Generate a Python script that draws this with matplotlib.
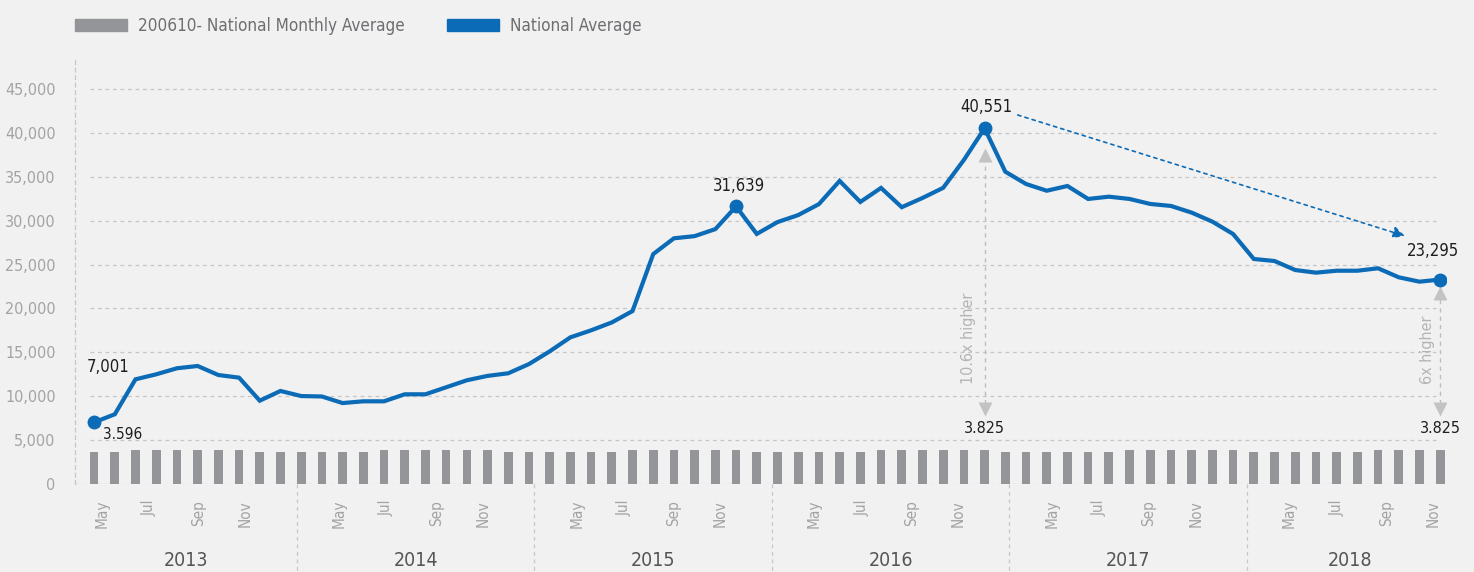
import matplotlib
matplotlib.use("Agg")
import matplotlib.pyplot as plt
import matplotlib.transforms as mtransforms
from matplotlib.patches import Patch
from matplotlib.ticker import FuncFormatter

plt.rcParams["font.family"] = ["DejaVu Sans"]
plt.rcParams["font.stretch"] = "condensed"

# ---- data -------------------------------------------------------------
years = ["2013", "2014", "2015", "2016", "2017", "2018"]
months_per_year = [10, 12, 11, 12, 11, 10]
month_ticks = ["May", "Jul", "Sep", "Nov"]

LOW, HIGH = 3596, 3825
monthly_avg = (
    [LOW, LOW, HIGH, HIGH, HIGH, HIGH, HIGH, HIGH, LOW, LOW]
    + [LOW, LOW, LOW, LOW, HIGH, HIGH, HIGH, HIGH, HIGH, HIGH, LOW, LOW]
    + [LOW, LOW, LOW, LOW, HIGH, HIGH, HIGH, HIGH, HIGH, HIGH, LOW]
    + [LOW, LOW, LOW, LOW, LOW, HIGH, HIGH, HIGH, HIGH, HIGH, HIGH, LOW]
    + [LOW, LOW, LOW, LOW, LOW, HIGH, HIGH, HIGH, HIGH, HIGH, HIGH]
    + [LOW, LOW, LOW, LOW, LOW, LOW, HIGH, HIGH, HIGH, HIGH]
)

national_avg = [
    7001, 7920, 11910, 12480, 13170, 13430, 12400, 12100, 9470, 10580,
    10000, 9950, 9200, 9400, 9400, 10200, 10200, 11000, 11800, 12300, 12600, 13650,
    15100, 16700, 17500, 18400, 19700, 26200, 28000, 28250, 29050, 31639, 28500,
    29850, 30650, 31900, 34550, 32150, 33750, 31550, 32600, 33760, 36940, 40551,
    35600, 34200, 33430, 33970, 32490, 32750, 32490, 31920, 31690, 30930, 29900,
    28490, 25640, 25410, 24380, 24080, 24300, 24300, 24580, 23550, 23050, 23295,
]

highlight = [0, 31, 43, 65]
ratio_notes = [(43, "10.6x higher"), (65, "6x higher")]

# ---- style ------------------------------------------------------------
BG = "#f1f1f1"
BAR = "#939598"
BLUE = "#0c6bb6"
GRID = "#c6c6c6"
TICK = "#a3a3a3"
DARK = "#1e1e1e"

fig = plt.figure(figsize=(14.74, 5.72), dpi=100, facecolor=BG)
ax = fig.add_axes([0.0509, 0.1544, 0.9301, 0.7407], facecolor=BG)

x = list(range(len(national_avg)))
ax.set_xlim(-0.92, 65.28)
ax.set_ylim(0, 48346)

yticks = list(range(0, 45001, 5000))
ax.hlines(yticks[1:], -0.2, 64.8, colors=GRID, linestyles=(0, (3, 3)), lw=0.9, zorder=0)
ax.axhline(0, color=GRID, ls=(0, (3, 3)), lw=0.9, zorder=0)

for s in ["top", "right", "bottom"]:
    ax.spines[s].set_visible(False)
ax.spines["left"].set_color(GRID)
ax.spines["left"].set_linestyle((0, (3, 3)))
ax.spines["left"].set_linewidth(0.9)

ax.set_yticks(yticks)
ax.yaxis.set_major_formatter(FuncFormatter(lambda v, _: f"{int(v):,}"))
ax.tick_params(axis="y", length=0, pad=14, labelsize=11.5, labelcolor=TICK)
ax.set_xticks([])

# bars + line
ax.bar(x, monthly_avg, width=0.42, color=BAR, zorder=2)
ax.plot(x, national_avg, color=BLUE, lw=3.0, zorder=3, solid_joinstyle="miter")
ax.plot([x[i] for i in highlight], [national_avg[i] for i in highlight],
        "o", ms=9, color=BLUE, zorder=4)

# value labels on the line
lab_kw = dict(fontsize=12, color=DARK, ha="center", va="center", zorder=5)
ax.text(x[0] + 0.66, national_avg[0] + 6300, f"{national_avg[0]:,}", **lab_kw)
ax.text(x[31] + 0.15, national_avg[31] + 2300, f"{national_avg[31]:,}", **lab_kw)
ax.text(x[43] + 0.1, national_avg[43] + 2430, f"{national_avg[43]:,}", **lab_kw)
ax.text(x[65] - 0.36, national_avg[65] + 3250, f"{national_avg[65]:,}", **lab_kw)

# bar value labels (dot as thousands separator)
def dotted(v):
    return f"{v:,}".replace(",", ".")

ax.text(x[0] + 1.39, monthly_avg[0] + 2010, dotted(monthly_avg[0]), fontsize=11,
        color=DARK, ha="center", va="center")
for i, _ in ratio_notes:
    ax.text(x[i], monthly_avg[i] + 2515, dotted(monthly_avg[i]), fontsize=11.5,
            color=DARK, ha="center", va="center")

# ratio arrows from bar up to line
for i, note in ratio_notes:
    lo = 8200
    hi = national_avg[i] - (2700 if i == 43 else 1200)
    ax.plot([x[i], x[i]], [lo, hi], color="#bdbdbd", lw=1.0, ls=(0, (3, 3)), zorder=1)
    ax.plot(x[i], hi - 350, marker="^", ms=10, color="#c3c3c3", mec="none", zorder=1)
    ax.plot(x[i], lo + 350, marker="v", ms=10, color="#c3c3c3", mec="none", zorder=1)
    ax.text(x[i] - (0.8 if i == 43 else 0.62), 11400, note, rotation=90,
            ha="center", va="bottom", fontsize=11.5, color="#b4b4b4")

# dotted trend arrow from the peak towards the latest value
ax.annotate("", xy=(x[65] - 1.7, national_avg[65] + 4970),
            xytext=(x[43] + 1.6, national_avg[43] + 1520),
            arrowprops=dict(arrowstyle="-|>,head_length=0.7,head_width=0.35",
                            color=BLUE, lw=1.2, ls=(0, (2, 2.5)),
                            shrinkA=0, shrinkB=0))

# ---- two-level category axis ----------------------------------------
trans = mtransforms.blended_transform_factory(ax.transData, ax.transAxes)
edge0, band = -1.68, 11.47
xmin, xmax = ax.get_xlim()
frac = [0.179, 0.378, 0.587, 0.784]
for k, yr in enumerate(years):
    start = edge0 + k * band
    end = start + band
    if k > 0:
        ax.plot([start, start], [0, -0.21], transform=trans, clip_on=False,
                color=GRID, lw=0.9, ls=(0, (3, 3)))
    for f, name in zip(frac, month_ticks):
        ax.text(start + f * band, -0.0385, name, transform=trans, rotation=90,
                ha="center", va="top", fontsize=11, color=TICK)
    cx = (max(start, xmin) + min(end, xmax + 0.35)) / 2
    ax.text(cx, -0.1824, yr, transform=trans, ha="center", va="center",
            fontsize=14, color="#555555")

# ---- legend -----------------------------------------------------------
handles = [Patch(color=BAR, label="200610- National Monthly Average"),
           Patch(color=BLUE, label="National Average")]
fig.legend(handles=handles, loc="center left", bbox_to_anchor=(75 / 1474, 1 - 26 / 572),
           ncol=2, frameon=False, fontsize=12.25, labelcolor="#6d6e71",
           handlelength=3.06, handleheight=0.78, handletextpad=0.65,
           columnspacing=2.45, borderpad=0, borderaxespad=0)

fig.savefig("out.png", dpi=100, facecolor=BG)
